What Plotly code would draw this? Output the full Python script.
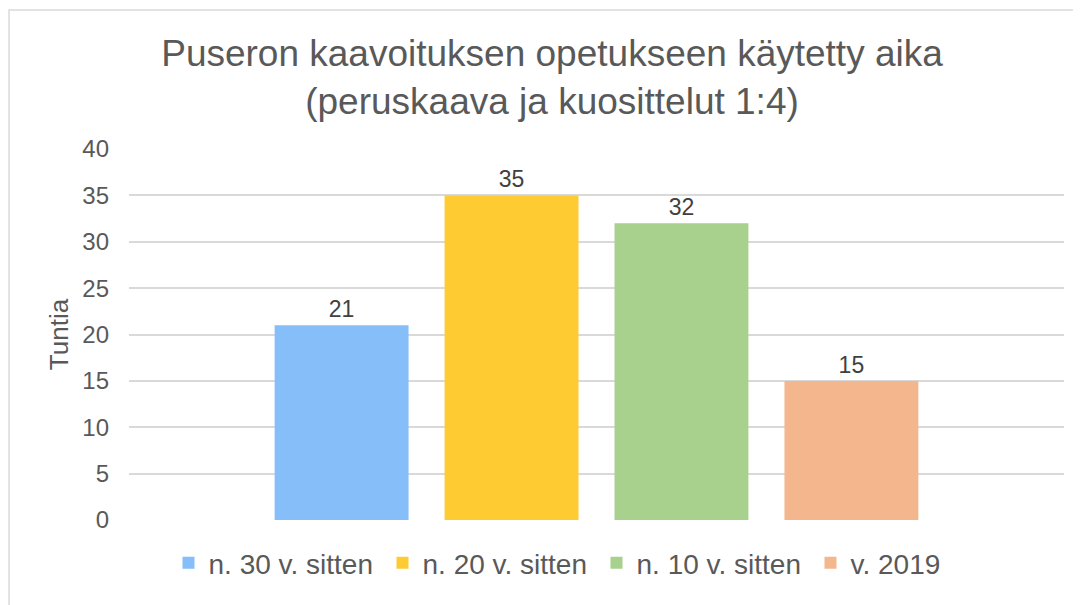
import plotly.graph_objects as go

series_names = ["n. 30 v. sitten", "n. 20 v. sitten", "n. 10 v. sitten", "v. 2019"]
hours = [21, 35, 32, 15]
colors = ["#85BEF9", "#FECB33", "#A9D18E", "#F4B68C"]
y_ticks = [0, 5, 10, 15, 20, 25, 30, 35, 40]

FONT = "Liberation Sans, Arial, sans-serif"

fig = go.Figure()
for name, val, col in zip(series_names, hours, colors):
    fig.add_trace(go.Bar(
        x=[0], y=[val], name=name,
        marker=dict(color=col, line=dict(width=0)),
        text=[str(val)], textposition="outside",
        textfont=dict(family=FONT, size=23, color="#404040"),
        cliponaxis=False,
    ))

fig.update_layout(
    width=1073, height=597,
    margin=dict(l=121, r=17, t=141, b=85, autoexpand=False),
    paper_bgcolor="white", plot_bgcolor="white",
    barmode="group", bargap=0.273, bargroupgap=0.212,
    title=dict(
        text="Puseron kaavoituksen opetukseen käytetty aika<br>(peruskaava ja kuosittelut 1:4)",
        x=0.507, xref="container", xanchor="center",
        y=0.903, yref="container", yanchor="middle",
        font=dict(family=FONT, size=37, color="#595959"),
    ),
    xaxis=dict(range=[-0.5, 0.5], showticklabels=False, showgrid=False,
               zeroline=False, showline=False, ticks=""),
    yaxis=dict(range=[0, 40], tickvals=y_ticks, showgrid=True,
               gridcolor="#D9D9D9", gridwidth=1.5, zeroline=False,
               showline=False, ticks="", ticklabelstandoff=19,
               tickfont=dict(family=FONT, size=24, color="#595959"),
               title=dict(text="Tuntia", standoff=6,
                          font=dict(family=FONT, size=26, color="#595959"))),
    legend=dict(orientation="h", x=0.5, xanchor="center", y=-0.116,
                yanchor="middle", itemwidth=30, entrywidth=169,
                entrywidthmode="pixels",
                font=dict(family=FONT, size=28, color="#595959"),
                traceorder="normal"),
    showlegend=True,
)

fig.add_shape(type="rect", xref="paper", yref="paper",
              x0=-0.1283, x1=1.05, y0=-0.3, y1=1.3747,
              line=dict(color="#D9D9D9", width=1.5), fillcolor="rgba(0,0,0,0)",
              layer="below")

fig.write_html("out.html")
